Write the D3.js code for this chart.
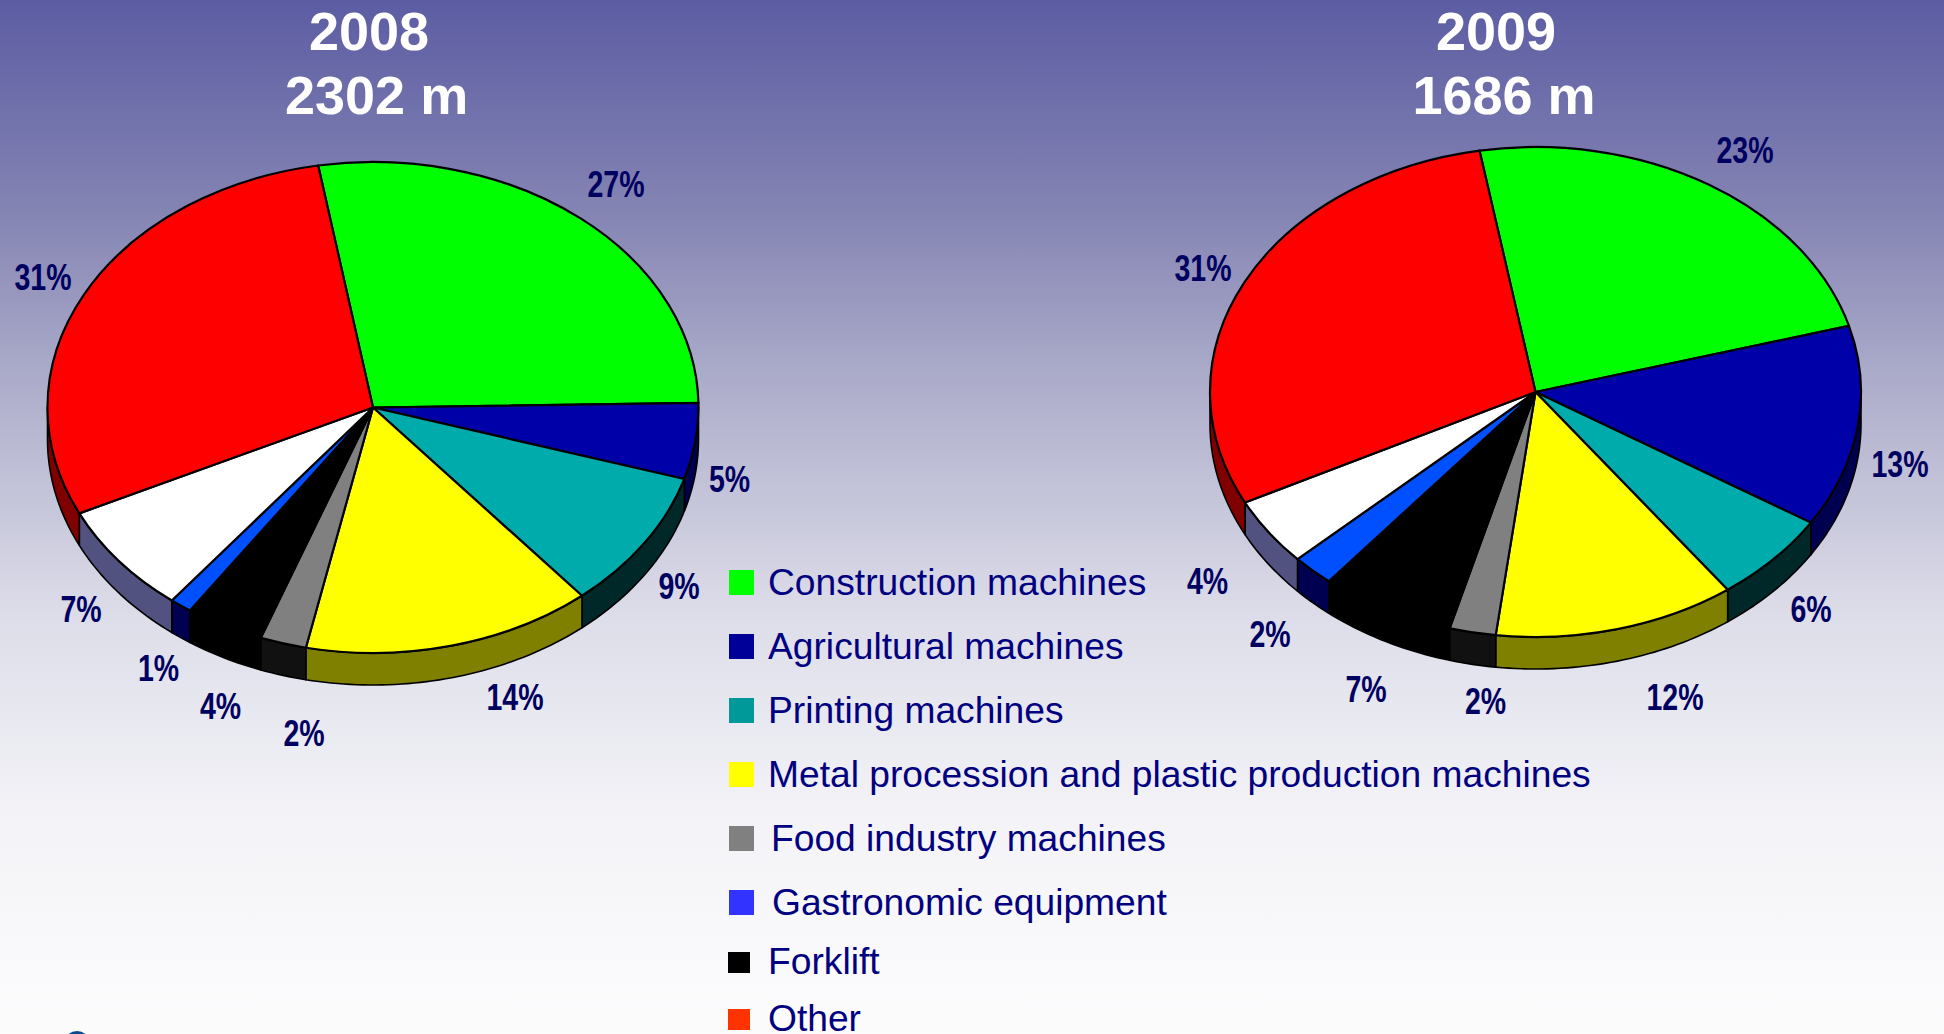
<!DOCTYPE html>
<html><head><meta charset="utf-8">
<style>html,body{margin:0;padding:0;overflow:hidden;background:#fff}svg{display:block}text{font-family:"Liberation Sans",Arial,sans-serif}</style>
<script src="https://cdn.jsdelivr.net/npm/d3@7"></script></head><body>
<script>
const legendKeys = ["Construction machines","Agricultural machines","Printing machines","Metal procession and plastic production machines","Food industry machines","Gastronomic equipment","Forklift","Other"];
// pie order, clockwise from the top
const pieOrder = ["Construction machines","Agricultural machines","Printing machines","Metal procession and plastic production machines","Food industry machines","Forklift","Gastronomic equipment","Unnamed","Other"];
const shares2008 = [27.4,5.0,9.2,14.4,2.3,3.9,1.1,7.3,29.4];
const shares2009 = [23.4,13.3,6.0,12.0,2.3,6.7,2.1,4.5,29.7];
const labels2008 = ["27%","5%","9%","14%","2%","4%","1%","7%","31%"];
const labels2009 = ["23%","13%","6%","12%","2%","7%","2%","4%","31%"];
const titles2008 = ["2008","2302 m"];
const titles2009 = ["2009","1686 m"];

const W=1944,H=1034;
const topColors = d3.scaleOrdinal().domain(pieOrder).range(["#00ff00","#0000a8","#00abab","#ffff00","#808080","#000000","#0050ff","#ffffff","#ff0000"]);
const wallColors = d3.scaleOrdinal().domain(pieOrder).range(["#008000","#000050","#002828","#808000","#111111","#000000","#000050","#525280","#800000"]);
const legendColors = d3.scaleOrdinal().domain(legendKeys).range(["#00ff00","#000099","#009999","#ffff00","#808080","#3333ff","#000000","#ff3300"]);

const svg = d3.select("body").append("svg").attr("width",W).attr("height",H);
const grad = svg.append("defs").append("linearGradient").attr("id","bg").attr("x1",0).attr("x2",0).attr("y1",0).attr("y2",1);
[[0,"#5c5ca3"],[.2,"#8383b3"],[.37,"#adadcb"],[.6,"#dedeea"],[.8,"#f4f4f8"],[1,"#fcfcfd"]].forEach(([o,c])=>grad.append("stop").attr("offset",o).attr("stop-color",c));
svg.append("rect").attr("width",W).attr("height",H).attr("fill","url(#bg)");

svg.append("ellipse").attr("cx",77).attr("cy",1046).attr("rx",14).attr("ry",15).attr("fill","#0b4a90");

const labelStyle = {size:37,sx:.77,fill:"#000060"};
function drawPie(cfg){
  const {cx,cy,rx,ry,depth,start,shares,labels,labelPos,titles,titlePos}=cfg;
  const g=svg.append("g");
  const a0=start*Math.PI/180;
  const arcs=d3.pie().sort(null).startAngle(a0).endAngle(a0+2*Math.PI).value(d=>d.v)(shares.map((v,i)=>({v,k:pieOrder[i]})));
  const px=t=>cx+rx*Math.sin(t), py=t=>cy-ry*Math.cos(t);
  const line=d3.line().x(d=>d[0]).y(d=>d[1]);
  const lo=Math.PI/2, hi=3*Math.PI/2;
  arcs.forEach(a=>{
    const s=Math.max(a.startAngle,lo), e=Math.min(a.endAngle,hi);
    if(e<=s) return;
    const n=Math.max(2,Math.ceil((e-s)/.02));
    const ts=d3.range(n+1).map(i=>s+(e-s)*i/n);
    const pts=ts.map(t=>[px(t),py(t)]).concat(ts.slice().reverse().map(t=>[px(t),py(t)+depth]));
    g.append("path").attr("d",line(pts)+"Z").attr("fill",wallColors(a.data.k)).attr("stroke","#000").attr("stroke-width",1.6).attr("stroke-linejoin","round");
  });
  const arc=d3.arc().innerRadius(0).outerRadius(rx);
  const tg=g.append("g").attr("transform",`translate(${cx},${cy}) scale(1,${ry/rx})`);
  tg.selectAll("path").data(arcs).join("path").attr("d",arc)
    .attr("fill",d=>topColors(d.data.k)).attr("stroke","#000").attr("stroke-width",2.2)
    .attr("stroke-linejoin","round").attr("vector-effect","non-scaling-stroke");
  labels.forEach((t,i)=>{
    g.append("text").text(t).attr("text-anchor","middle")
      .attr("transform",`translate(${labelPos[i][0]},${labelPos[i][1]}) scale(${labelStyle.sx},1)`)
      .attr("font-size",labelStyle.size).attr("font-weight","bold").attr("fill",labelStyle.fill);
  });
  titles.forEach((t,i)=>{
    g.append("text").text(t).attr("text-anchor","middle").attr("x",titlePos[i][0]).attr("y",titlePos[i][1])
      .attr("font-size",54).attr("font-weight","bold").attr("fill","#fff");
  });
}
drawPie({cx:373,cy:407.5,rx:325.5,ry:245.5,depth:32,start:-9.7,shares:shares2008,labels:labels2008,titles:titles2008,
  labelPos:[[616,197],[729.5,492],[679,599],[515,710],[304,746],[220.5,719],[158.5,681],[81,622],[43,290]],
  titlePos:[[369,50],[376.6,114]]});
drawPie({cx:1535.5,cy:392,rx:325.5,ry:245,depth:32,start:-9.9,shares:shares2009,labels:labels2009,titles:titles2009,
  labelPos:[[1745,163],[1900,477],[1811,622],[1675,710],[1485.5,714],[1366,702],[1270,647],[1207.5,594],[1203,281]],
  titlePos:[[1496,50],[1504,114]]});

const swatches=[[729,570,25,25],[729,634,25,25],[729,698,25,25],[729,762,25,25],[729,826,25,25],[729,890,25,25],[728,952,22,21],[728,1009,22,21]];
const textPos=[[768,595],[768,659],[768,723],[768,787],[771,851],[772,915],[768,974],[768,1031]];
legendKeys.forEach((k,i)=>{
  svg.append("rect").attr("x",swatches[i][0]).attr("y",swatches[i][1]).attr("width",swatches[i][2]).attr("height",swatches[i][3]).attr("fill",legendColors(k));
  svg.append("text").text(k).attr("x",textPos[i][0]).attr("y",textPos[i][1]).attr("font-size",37.2).attr("fill","#000080");
});
</script></body></html>
